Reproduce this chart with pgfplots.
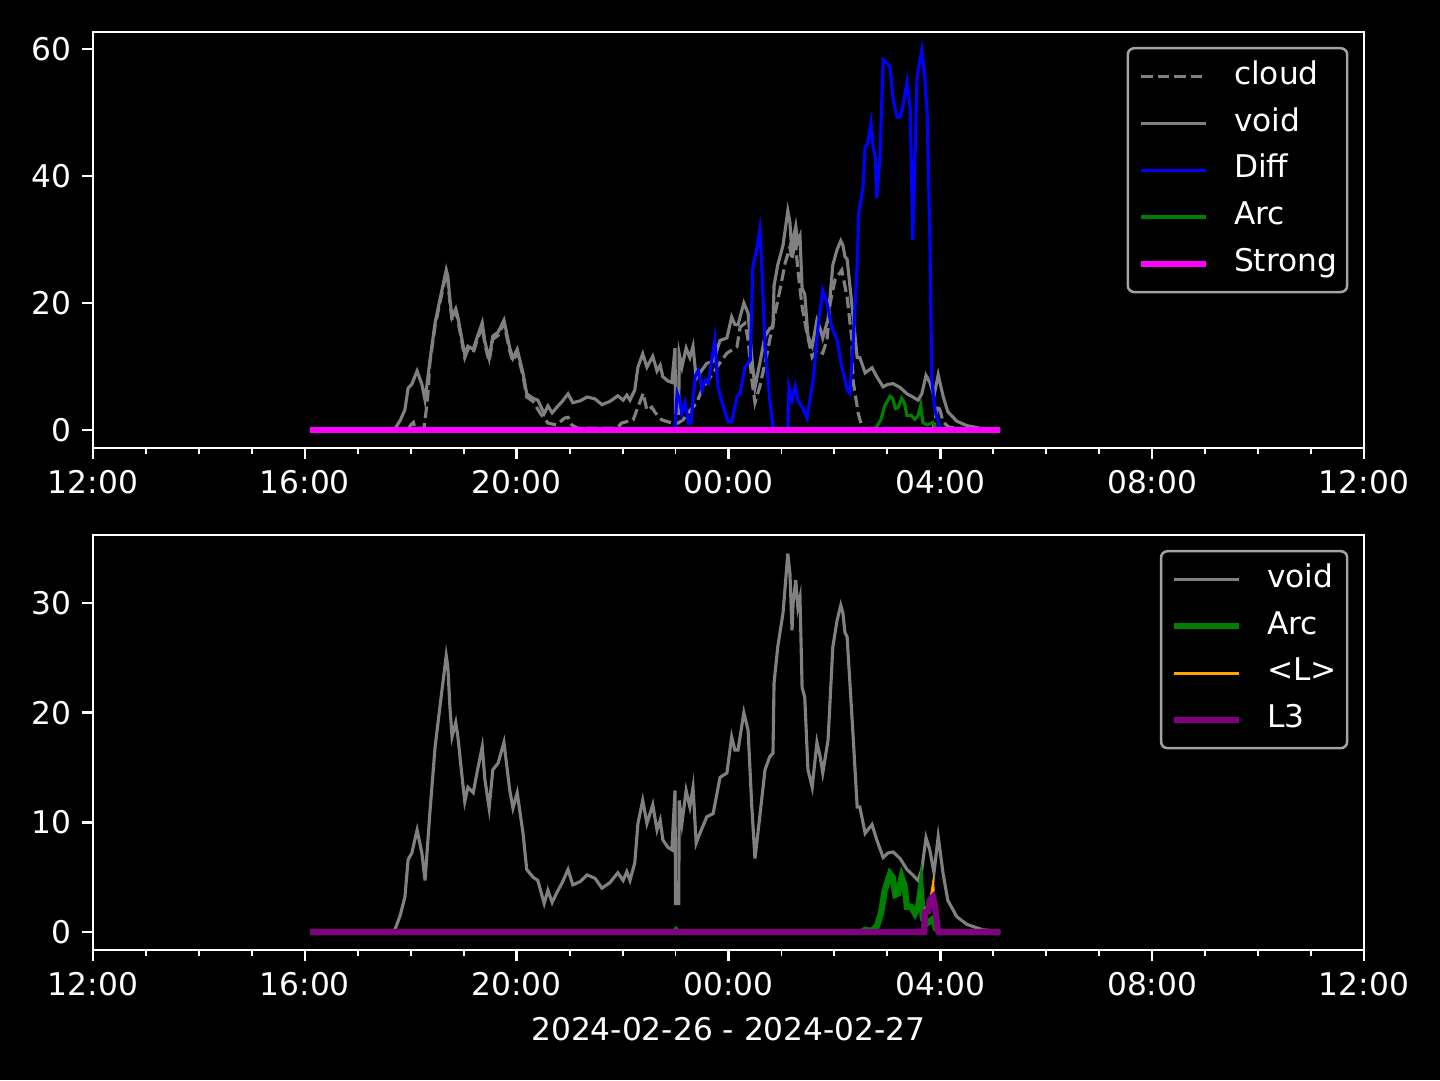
\documentclass[border=0pt]{standalone}
\usepackage{fontspec}
\setmainfont{DejaVu Sans}
\usepackage{pgfplots}
\pgfplotsset{compat=1.18}
\usepackage{pgfplotstable}

\definecolor{mgray}{HTML}{808080}
\definecolor{mgreen}{HTML}{008000}
\definecolor{morange}{HTML}{FFA500}
\definecolor{mpurple}{HTML}{800080}
\definecolor{mblue}{HTML}{0000FF}
\definecolor{mmagenta}{HTML}{FF00FF}
\definecolor{legframe}{HTML}{A3A3A3}

% hours since midnight of 2024-02-26 (24 = 00:00 next day)
\pgfplotstableread{
h v
16.10 0
17.60 0
17.70 0.2
17.80 1.5
17.89 3.2
17.95 6.6
18.02 7.2
18.12 9.3
18.21 7.2
18.27 4.7
18.36 10.8
18.46 16.9
18.55 20.5
18.67 25.2
18.70 24.2
18.74 20.5
18.78 17.8
18.85 19.1
18.89 17.8
18.99 13.2
19.02 11.9
19.08 13.2
19.18 12.7
19.25 14.5
19.35 16.9
19.40 13.9
19.48 11.3
19.55 14.8
19.65 15.4
19.76 17.3
19.87 12.9
19.93 11.3
20.01 12.7
20.12 9.0
20.19 5.7
20.31 5.0
20.40 4.7
20.52 2.6
20.59 3.8
20.67 2.7
20.76 3.6
20.86 4.5
20.97 5.7
21.06 4.3
21.20 4.6
21.33 5.2
21.48 4.9
21.61 4.0
21.76 4.5
21.91 5.4
22.01 4.7
22.08 5.5
22.14 4.7
22.23 6.3
22.29 9.9
22.38 12.0
22.46 9.9
22.57 11.6
22.65 9.3
22.71 10.2
22.76 8.4
22.86 7.7
22.93 7.5
22.99 12.9
23.00 2.6
23.06 2.6
23.07 12.0
23.12 9.9
23.20 12.9
23.27 11.4
23.33 13.2
23.39 8.1
23.46 9.0
23.59 10.5
23.71 10.8
23.84 14.1
23.97 14.5
24.06 17.8
24.12 16.6
24.18 16.6
24.29 20.0
24.37 18.4
24.44 11.4
24.50 6.7
24.59 10.5
24.69 14.8
24.78 16.0
24.84 16.3
24.86 22.7
24.93 26.0
25.03 29.1
25.12 34.5
25.16 32.7
25.20 27.5
25.22 30.0
25.27 32.1
25.31 29.6
25.35 30.5
25.39 22.3
25.44 21.4
25.50 14.8
25.58 13.2
25.67 17.3
25.73 16.0
25.78 14.5
25.88 17.5
25.97 26.0
26.05 28.4
26.12 29.8
26.16 29.1
26.20 27.3
26.24 26.9
26.35 18.1
26.43 11.4
26.48 11.4
26.58 9.0
26.71 9.8
26.80 8.4
26.92 6.8
27.01 7.2
27.11 7.3
27.24 6.7
27.37 5.7
27.48 5.2
27.58 4.7
27.65 5.7
27.73 8.6
27.80 7.5
27.88 5.4
27.96 8.7
28.05 5.4
28.14 2.9
28.31 1.4
28.50 0.7
28.80 0.2
29.13 0.05
}\voidtab

\pgfplotstableread{
h v
16.10 0
17.95 0
18.00 0.8
18.05 1.2
18.08 0.3
18.25 0.3
18.31 4.3
18.33 6.3
18.36 10.5
18.46 16.4
18.55 20.0
18.67 24.7
18.70 23.7
18.74 20.0
18.78 17.3
18.85 18.6
18.89 17.3
18.99 12.7
19.02 11.4
19.08 12.7
19.18 12.2
19.25 14.0
19.35 16.4
19.40 13.4
19.48 10.8
19.55 14.3
19.65 14.9
19.76 16.8
19.87 12.4
19.93 10.8
20.01 12.2
20.12 8.5
20.19 5.2
20.31 4.5
20.44 2.7
20.59 1.1
20.75 0.8
20.91 1.9
20.97 2.0
21.04 0.8
21.15 0.3
21.90 0.3
21.98 1.1
22.20 1.6
22.29 3.6
22.39 5.8
22.46 3.1
22.55 3.6
22.62 2.7
22.74 1.6
22.93 1.1
23.05 1.1
23.14 1.6
23.27 3.0
23.40 4.3
23.52 6.8
23.59 7.5
23.78 9.9
23.97 12.1
24.16 13.1
24.22 16.2
24.31 16.8
24.37 14.2
24.44 7.9
24.50 4.3
24.59 6.8
24.73 12.1
24.84 16.8
24.97 22.0
25.07 26.3
25.16 28.8
25.20 26.8
25.26 29.9
25.31 25.2
25.39 19.4
25.48 15.3
25.58 11.5
25.67 12.6
25.78 12.1
25.86 14.2
25.92 20.0
26.01 23.6
26.14 25.2
26.24 20.9
26.33 14.2
26.35 7.9
26.45 2.6
26.52 0.5
26.60 0
27.85 0
27.90 1.5
27.95 4.0
28.00 3.0
28.05 1.3
28.15 0.5
28.40 0.1
29.13 0
}\cloudtab

\pgfplotstableread{
h v
16.10 0
22.97 0
22.99 0.5
23.03 5.8
23.08 4.7
23.12 2.6
23.18 4.3
23.24 1.1
23.29 1.1
23.37 8.4
23.43 9.4
23.50 6.3
23.56 7.9
23.62 7.4
23.74 14.2
23.80 6.8
23.88 4.3
23.99 1.3
24.06 1.3
24.16 5.2
24.22 5.8
24.31 9.9
24.41 11.0
24.46 25.7
24.54 28.8
24.59 31.5
24.63 25.7
24.69 13.1
24.78 4.7
24.84 0.5
24.88 0
25.10 0
25.12 0.5
25.14 6.8
25.20 4.7
25.26 6.8
25.31 4.7
25.39 3.6
25.48 1.9
25.60 7.9
25.69 16.2
25.78 22.0
25.86 20.0
25.95 16.2
26.05 14.2
26.14 9.9
26.24 6.3
26.29 5.8
26.35 13.1
26.43 26.3
26.46 34.2
26.50 36.2
26.54 38.3
26.58 44.6
26.63 45.2
26.69 48.3
26.73 44.6
26.77 43.0
26.80 36.5
26.86 43.0
26.92 58.3
26.99 57.8
27.05 57.2
27.11 52.0
27.18 49.3
27.24 49.3
27.29 50.9
27.37 54.8
27.43 50.9
27.48 29.9
27.56 55.6
27.65 59.8
27.71 55.1
27.75 49.9
27.80 31.5
27.84 7.9
27.90 3.1
27.99 0.5
28.03 0
29.13 0
}\difftab

\pgfplotstableread{
h v
16.10 0
22.98 0
23.01 0.15
23.04 0
26.50 0
26.58 0.2
26.70 0.1
26.80 0.5
26.88 1.7
26.95 3.8
27.05 5.3
27.10 5.0
27.15 3.4
27.20 3.5
27.27 5.0
27.32 4.3
27.37 2.3
27.45 2.3
27.52 1.7
27.58 2.3
27.63 3.9
27.67 1.2
27.75 0.8
27.86 1.2
27.92 0.3
28.00 0
29.13 0
}\arctab

\pgfplotstableread{
h v
16.10 0
27.69 0
27.71 2.0
27.75 2.3
27.79 2.0
27.86 4.1
27.92 0.3
27.95 0
29.13 0
}\ltab

\pgfplotstableread{
h v
16.10 0
27.69 0
27.71 1.8
27.77 2.0
27.80 2.9
27.86 3.2
27.90 2.3
27.95 0.2
27.97 0
29.13 0
}\lthreetab

\pgfplotstableread{
h v
16.10 0
22.00 0
29.13 0
}\strongtab

\pgfplotsset{
  dark/.style={
    scale only axis,
    width=406.72pt,
    anchor=south west,
    xmin=12, xmax=36,
    xtick={12,16,20,24,28,32,36},
    xticklabels={12:00,16:00,20:00,00:00,04:00,08:00,12:00},
    minor x tick num=3,
    xtick pos=bottom, ytick pos=left,
    tick align=outside,
    major tick length=3.5pt, minor tick length=2pt,
    major tick style={white, line width=0.8pt},
    minor tick style={white, line width=0.6pt},
    axis line style={white, line width=0.8pt},
    ticklabel style={font=\fontsize{10}{12}\selectfont, text=white},
    /pgf/number format/assume math mode=true,
    legend cell align=left,
    legend image code/.code={\draw[#1] (0pt,0pt) -- (20.8pt,0pt);},
    legend style={fill=black, draw=legframe, line width=0.8pt,
      rounded corners=2pt, text=white, font=\fontsize{10}{12}\selectfont,
      at={(1,1)}, anchor=north east, xshift=-5pt, yshift=-4.8pt,
      inner xsep=3.2pt, inner ysep=4pt, row sep=5pt, column sep=8pt,
      nodes={inner sep=0pt, text height=7.5pt, text depth=2.5pt}},
  },
}

\begin{document}
\begin{tikzpicture}
\fill[black, use as bounding box] (0,0) rectangle (460.8pt,345.6pt);

\begin{axis}[dark, at={(29.76pt,202.24pt)}, height=133.12pt,
  ymin=-2.83, ymax=62.68, ytick={0,20,40,60}]
  \addplot[mgray, line width=1pt, dash pattern=on 3.7pt off 1.6pt] table[x=h, y=v] {\cloudtab};
  \addlegendentry{cloud}
  \addplot[mgray, line width=1pt] table[x=h, y=v] {\voidtab};
  \addlegendentry{void}
  \addplot[mblue, line width=1pt] table[x=h, y=v] {\difftab};
  \addlegendentry{Diff}
  \addplot[mgreen, line width=1pt] table[x=h, y=v] {\arctab};
  \addlegendentry{Arc}
  \addplot[mmagenta, line width=2pt] table[x=h, y=v] {\strongtab};
  \addlegendentry{Strong}
\end{axis}

\begin{axis}[dark, at={(29.76pt,41.6pt)}, height=132.8pt,
  ymin=-1.64, ymax=36.2, ytick={0,10,20,30},
  xlabel={2024-02-26 - 2024-02-27},
  xlabel style={font=\fontsize{10}{12}\selectfont, text=white}]
  \addplot[mgray, line width=1pt] table[x=h, y=v] {\voidtab};
  \addlegendentry{void}
  \addplot[mgreen, line width=2pt] table[x=h, y=v] {\arctab};
  \addlegendentry{Arc}
  \addplot[morange, line width=1pt] table[x=h, y=v] {\ltab};
  \addlegendentry{<L>}
  \addplot[mpurple, line width=2pt] table[x=h, y=v] {\lthreetab};
  \addlegendentry{L3}
\end{axis}
\end{tikzpicture}
\end{document}
